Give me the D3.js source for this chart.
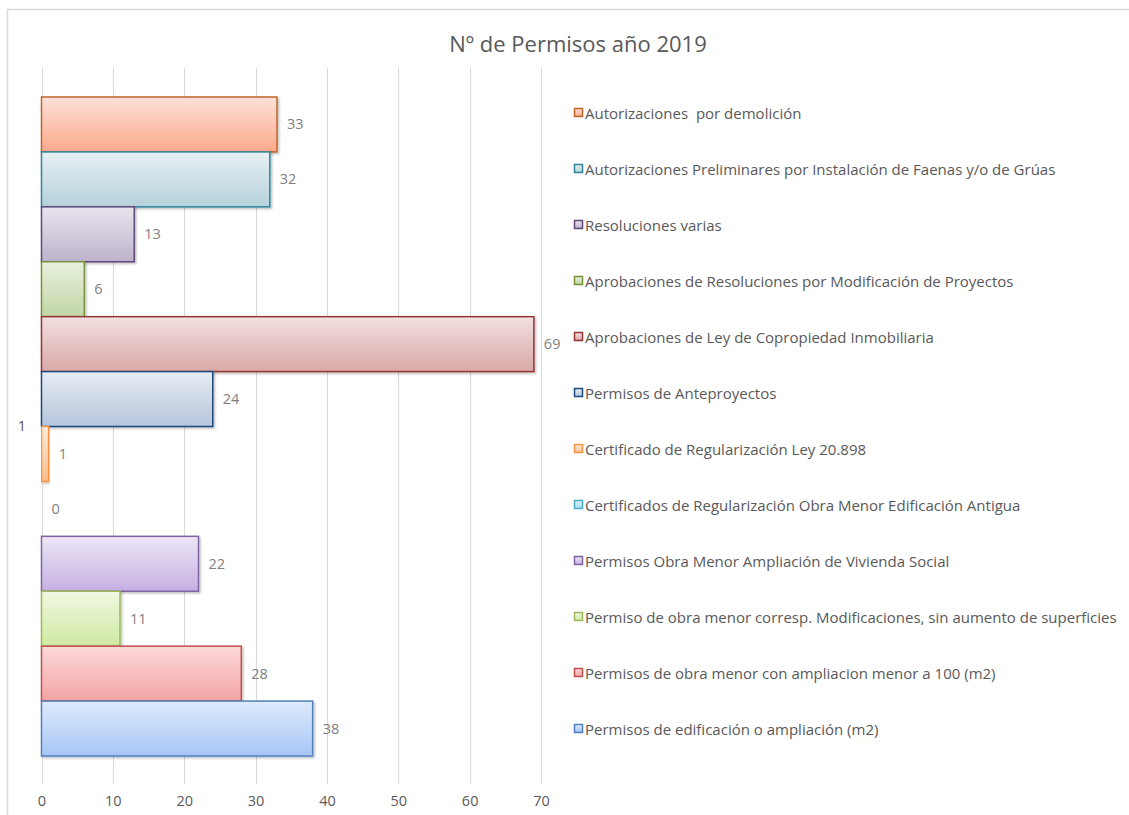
<!DOCTYPE html>
<html>
<head>
  <meta charset="utf-8">
  <title>Nº de Permisos año 2019</title>
  <style>
    body { margin: 0; background: #fff; }
  </style>
</head>
<body>
  <div id="chart"></div>
<script src="https://cdn.jsdelivr.net/npm/d3@7"></script>
<script>
// data
var categories = ["Autorizaciones  por demolición",
                  "Autorizaciones Preliminares por Instalación de Faenas y/o de Grúas",
                  "Resoluciones varias",
                  "Aprobaciones de Resoluciones por Modificación de Proyectos",
                  "Aprobaciones de Ley de Copropiedad Inmobiliaria",
                  "Permisos de Anteproyectos",
                  "Certificado de Regularización Ley 20.898",
                  "Certificados de Regularización Obra Menor Edificación Antigua",
                  "Permisos Obra Menor Ampliación de Vivienda Social",
                  "Permiso de obra menor corresp. Modificaciones, sin aumento de superficies",
                  "Permisos de obra menor con ampliacion menor a 100 (m2)",
                  "Permisos de edificación o ampliación (m2)"];
var values = [33, 32, 13, 6, 69, 24, 1, 0, 22, 11, 28, 38];
var groupLabel = ["1"];
var xTicks = [0, 10, 20, 30, 40, 50, 60, 70];

// colours: [gradient top, gradient bottom, border]
var colours = [
  ["#fde2da", "#fba88c", "#c0652a"],
  ["#e8f0f3", "#b5d1db", "#31859c"],
  ["#e9e5ee", "#bdb2cb", "#5f497a"],
  ["#e8f0df", "#c1d6a6", "#77933c"],
  ["#f3e0df", "#d8a9a8", "#943634"],
  ["#e6ecf3", "#b7c6dc", "#1f497d"],
  ["#fdebdc", "#f9be8e", "#f79646"],
  ["#def2f8", "#a9dcea", "#4bacc6"],
  ["#ede6f6", "#c5b0e2", "#8064a2"],
  ["#f0f8e2", "#cfe9a2", "#9bbb59"],
  ["#fcd9d9", "#f4a4a4", "#c0504d"],
  ["#dfebfc", "#a6c5f6", "#4f81bd"]
];

var W = 1129, H = 815;
var font = "'Open Sans', 'Noto Sans', sans-serif";
var grey = "#595959";

var svg = d3.select("#chart").append("svg")
            .attr("width", W)
            .attr("height", H);

// chart frame
svg.append("path")
   .attr("d", "M7.5," + H + " V9.5 H" + W)
   .attr("fill", "none")
   .attr("stroke", "#d9d9d9")
   .attr("stroke-width", 1.5);

svg.append("text")
   .text("Nº de Permisos año 2019")
   .attr("x", 578)
   .attr("y", 52)
   .attr("text-anchor", "middle")
   .attr("font-family", font)
   .attr("font-size", "22px")
   .attr("fill", grey);

var x = d3.scaleLinear().domain([0, 70]).range([41.5, 541]);

// inner band for the series within the single category
var y1 = d3.scaleBand().domain(d3.range(categories.length))
           .range([97, 756]).padding(0);

// gridlines
svg.append("g")
   .selectAll("line")
   .data(xTicks)
   .enter()
   .append("line")
   .attr("x1", function (d) { return Math.round(x(d)) + 0.5; })
   .attr("x2", function (d) { return Math.round(x(d)) + 0.5; })
   .attr("y1", 68)
   .attr("y2", 784)
   .attr("stroke", "#d9d9d9")
   .attr("stroke-width", 1);

// x axis labels
var xAxis = d3.axisBottom(x).tickValues(xTicks).tickSize(0).tickPadding(0);
var gx = svg.append("g")
            .attr("transform", "translate(0,796)")
            .call(xAxis);
gx.select(".domain").remove();
gx.selectAll("text")
  .attr("dy", "0.71em")
  .attr("font-family", font)
  .attr("font-size", "14.5px")
  .attr("fill", grey);

// category label
svg.append("text")
   .text(groupLabel[0])
   .attr("x", 22)
   .attr("y", 431)
   .attr("text-anchor", "middle")
   .attr("font-family", font)
   .attr("font-size", "14.5px")
   .attr("fill", grey);

// gradients
var defs = svg.append("defs");
colours.forEach(function (c, i) {
  var g = defs.append("linearGradient")
              .attr("id", "grad" + i)
              .attr("x1", 0).attr("y1", 0)
              .attr("x2", 0).attr("y2", 1);
  g.append("stop").attr("offset", "0%").attr("stop-color", c[0]);
  g.append("stop").attr("offset", "100%").attr("stop-color", c[1]);
});
var f = defs.append("filter").attr("id", "shadow")
            .attr("x", "-5%").attr("y", "-10%")
            .attr("width", "120%").attr("height", "130%");
f.append("feDropShadow")
 .attr("dx", 1.5).attr("dy", 1.5).attr("stdDeviation", 1.2)
 .attr("flood-color", "#000").attr("flood-opacity", 0.25);

var dataset = values.map(function (v, i) { return [v, i]; });

svg.append("g")
   .selectAll("rect")
   .data(dataset)
   .enter()
   .append("rect")
   .attr("x", x(0))
   .attr("y", function (d) { return y1(d[1]); })
   .attr("width", function (d) { return Math.max(x(d[0]) - x(0), 0); })
   .attr("height", y1.bandwidth())
   .attr("fill", function (d) { return "url(#grad" + d[1] + ")"; })
   .attr("stroke", function (d) { return d[0] > 0 ? colours[d[1]][2] : "none"; })
   .attr("stroke-width", 1.5)
   .attr("filter", "url(#shadow)");

// value labels
svg.append("g")
   .selectAll("text")
   .data(dataset)
   .enter()
   .append("text")
   .text(function (d) { return d[0]; })
   .attr("x", function (d) { return x(d[0]) + 10; })
   .attr("y", function (d) { return y1(d[1]) + y1.bandwidth() / 2 + 5; })
   .attr("font-family", font)
   .attr("font-size", "14.5px")
   .attr("fill", "#7f7f7f");

// legend
var legend = svg.append("g")
                .selectAll("g")
                .data(categories)
                .enter()
                .append("g")
                .attr("transform", function (d, i) {
                  return "translate(574," + (113 + i * 56) + ")";
                });
legend.append("rect")
      .attr("x", 0.5)
      .attr("y", -4.5)
      .attr("width", 8)
      .attr("height", 8)
      .attr("fill", function (d, i) { return "url(#grad" + i + ")"; })
      .attr("stroke", function (d, i) { return colours[i][2]; })
      .attr("stroke-width", 1.5);
legend.append("text")
      .text(function (d) { return d; })
      .attr("x", 11)
      .attr("y", 5.5)
      .attr("font-family", font)
      .attr("font-size", "15px")
      .attr("fill", grey)
      .style("white-space", "pre");
</script>
</body>
</html>
